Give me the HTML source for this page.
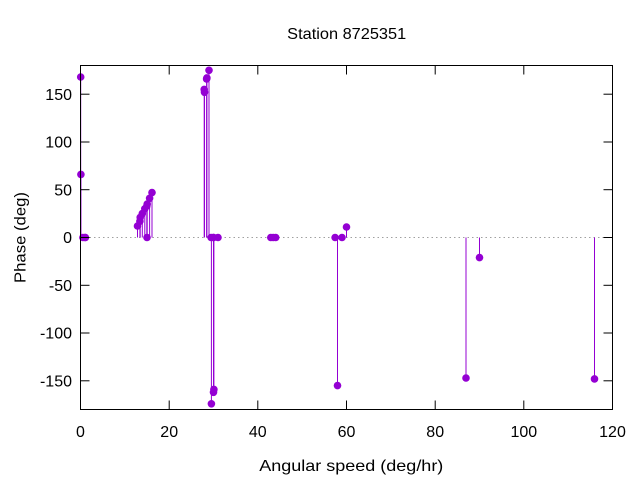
<!DOCTYPE html>
<html>
<head>
<meta charset="utf-8">
<style>
html,body{margin:0;padding:0;background:#fff;}
svg{display:block;}
text{font-family:"Liberation Sans","DejaVu Sans",sans-serif;font-size:16px;fill:#000;}
</style>
</head>
<body>
<svg width="640" height="480" viewBox="0 0 640 480" xmlns="http://www.w3.org/2000/svg">
<rect width="640" height="480" fill="#fff"/>
<!-- zero axis -->
<line x1="80.5" y1="237.5" x2="612.5" y2="237.5" stroke="#a0a0a0" stroke-width="1" stroke-dasharray="1.5,3"/>
<!-- stems -->
<g stroke="#9400d3" stroke-width="1">
<line x1="80.7" y1="237.5" x2="80.7" y2="77"/>
<line x1="80.9" y1="237.5" x2="80.9" y2="174.4"/>
<line x1="137.5" y1="237.5" x2="137.5" y2="226"/>
<line x1="139.9" y1="237.5" x2="139.9" y2="221.3"/>
<line x1="140.2" y1="237.5" x2="140.2" y2="217.4"/>
<line x1="142.3" y1="237.5" x2="142.3" y2="213.6"/>
<line x1="144.8" y1="237.5" x2="144.8" y2="208.8"/>
<line x1="146.8" y1="237.5" x2="146.8" y2="206"/>
<line x1="147.2" y1="237.5" x2="147.2" y2="204"/>
<line x1="149.6" y1="237.5" x2="149.6" y2="198.3"/>
<line x1="152.0" y1="237.5" x2="152.0" y2="192.6"/>
<line x1="204.2" y1="237.5" x2="204.2" y2="89.4"/>
<line x1="204.5" y1="237.5" x2="204.5" y2="92.3"/>
<line x1="206.6" y1="237.5" x2="206.6" y2="78.9"/>
<line x1="206.9" y1="237.5" x2="206.9" y2="77.9"/>
<line x1="209.0" y1="237.5" x2="209.0" y2="70.3"/>
<line x1="211.4" y1="237.5" x2="211.4" y2="403.8"/>
<line x1="213.5" y1="237.5" x2="213.5" y2="392.3"/>
<line x1="213.9" y1="237.5" x2="213.9" y2="389.4"/>
<line x1="337.5" y1="237.5" x2="337.5" y2="385.6"/>
<line x1="346.5" y1="237.5" x2="346.5" y2="227"/>
<line x1="466" y1="237.5" x2="466" y2="378"/>
<line x1="479.5" y1="237.5" x2="479.5" y2="257.6"/>
<line x1="594.5" y1="237.5" x2="594.5" y2="378.9"/>
</g>
<!-- points -->
<g fill="#9400d3">
<circle cx="80.7" cy="77" r="3.8"/>
<circle cx="80.9" cy="174.4" r="3.8"/>
<circle cx="82.9" cy="237.5" r="3.8"/>
<circle cx="85.0" cy="237.5" r="3.8"/>
<circle cx="85.4" cy="237.5" r="3.8"/>
<circle cx="137.5" cy="226" r="3.8"/>
<circle cx="139.9" cy="221.3" r="3.8"/>
<circle cx="140.2" cy="217.4" r="3.8"/>
<circle cx="142.3" cy="213.6" r="3.8"/>
<circle cx="144.8" cy="208.8" r="3.8"/>
<circle cx="146.8" cy="206" r="3.8"/>
<circle cx="147.0" cy="237.5" r="3.8"/>
<circle cx="147.2" cy="204" r="3.8"/>
<circle cx="149.6" cy="198.3" r="3.8"/>
<circle cx="152.0" cy="192.6" r="3.8"/>
<circle cx="204.2" cy="89.4" r="3.8"/>
<circle cx="204.5" cy="92.3" r="3.8"/>
<circle cx="206.6" cy="78.9" r="3.8"/>
<circle cx="206.9" cy="77.9" r="3.8"/>
<circle cx="209.0" cy="70.3" r="3.8"/>
<circle cx="211.1" cy="237.5" r="3.8"/>
<circle cx="211.4" cy="403.8" r="3.8"/>
<circle cx="213.3" cy="237.5" r="3.8"/>
<circle cx="213.5" cy="392.3" r="3.8"/>
<circle cx="213.7" cy="237.5" r="3.8"/>
<circle cx="213.9" cy="389.4" r="3.8"/>
<circle cx="218.0" cy="237.5" r="3.8"/>
<circle cx="270.8" cy="237.5" r="3.8"/>
<circle cx="273.2" cy="237.5" r="3.8"/>
<circle cx="275.7" cy="237.5" r="3.8"/>
<circle cx="335.1" cy="237.5" r="3.8"/>
<circle cx="337.5" cy="385.6" r="3.8"/>
<circle cx="342.0" cy="237.5" r="3.8"/>
<circle cx="346.5" cy="227" r="3.8"/>
<circle cx="466" cy="378" r="3.8"/>
<circle cx="479.5" cy="257.6" r="3.8"/>
<circle cx="594.5" cy="378.9" r="3.8"/>
</g>
<!-- frame -->
<rect x="80.5" y="65.5" width="532" height="344" fill="none" stroke="#000" stroke-width="1"/>
<!-- ticks -->
<g stroke="#000" stroke-width="1">
<line x1="80.5" y1="94.2" x2="89.5" y2="94.2"/><line x1="612.5" y1="94.2" x2="603.5" y2="94.2"/>
<line x1="80.5" y1="142" x2="89.5" y2="142"/><line x1="612.5" y1="142" x2="603.5" y2="142"/>
<line x1="80.5" y1="189.7" x2="89.5" y2="189.7"/><line x1="612.5" y1="189.7" x2="603.5" y2="189.7"/>
<line x1="80.5" y1="237.5" x2="89.5" y2="237.5"/><line x1="612.5" y1="237.5" x2="603.5" y2="237.5"/>
<line x1="80.5" y1="285.3" x2="89.5" y2="285.3"/><line x1="612.5" y1="285.3" x2="603.5" y2="285.3"/>
<line x1="80.5" y1="333" x2="89.5" y2="333"/><line x1="612.5" y1="333" x2="603.5" y2="333"/>
<line x1="80.5" y1="380.8" x2="89.5" y2="380.8"/><line x1="612.5" y1="380.8" x2="603.5" y2="380.8"/>
<line x1="169.2" y1="409.5" x2="169.2" y2="400.5"/><line x1="169.2" y1="65.5" x2="169.2" y2="74.5"/>
<line x1="257.8" y1="409.5" x2="257.8" y2="400.5"/><line x1="257.8" y1="65.5" x2="257.8" y2="74.5"/>
<line x1="346.5" y1="409.5" x2="346.5" y2="400.5"/><line x1="346.5" y1="65.5" x2="346.5" y2="74.5"/>
<line x1="435.2" y1="409.5" x2="435.2" y2="400.5"/><line x1="435.2" y1="65.5" x2="435.2" y2="74.5"/>
<line x1="523.8" y1="409.5" x2="523.8" y2="400.5"/><line x1="523.8" y1="65.5" x2="523.8" y2="74.5"/>
</g>
<!-- y tick labels -->
<g text-anchor="end">
<text x="72" y="99.8">150</text>
<text x="72" y="147.6">100</text>
<text x="72" y="195.3">50</text>
<text x="72" y="243.1">0</text>
<text x="72" y="290.9">-50</text>
<text x="72" y="338.6">-100</text>
<text x="72" y="386.4">-150</text>
</g>
<!-- x tick labels -->
<g text-anchor="middle">
<text x="80.5" y="437">0</text>
<text x="169.2" y="437">20</text>
<text x="257.8" y="437">40</text>
<text x="346.5" y="437">60</text>
<text x="435.2" y="437">80</text>
<text x="523.8" y="437">100</text>
<text x="612.5" y="437">120</text>
</g>
<text x="346.7" y="39" text-anchor="middle" textLength="119" lengthAdjust="spacingAndGlyphs">Station 8725351</text>
<text x="351.3" y="471" text-anchor="middle" textLength="184" lengthAdjust="spacingAndGlyphs">Angular speed (deg/hr)</text>
<text transform="translate(25.5,237.5) rotate(-90)" text-anchor="middle" textLength="91" lengthAdjust="spacingAndGlyphs">Phase (deg)</text>
</svg>
</body>
</html>
